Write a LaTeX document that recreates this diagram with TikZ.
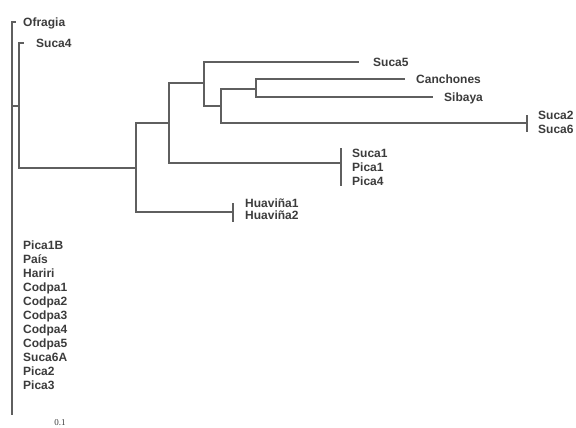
\documentclass[tikz,border=0pt]{standalone}
\usepackage{fontspec}
\setmainfont{Liberation Serif}
\newfontfamily\leaffont{Liberation Sans}
\usetikzlibrary{positioning}
\definecolor{linegray}{RGB}{95,95,95}
\definecolor{textgray}{RGB}{60,60,60}
\tikzset{
  leaf/.style={font=\leaffont\bfseries\fontsize{12}{14}\selectfont, text=textgray, inner sep=1pt, text height=8.6pt, text depth=0pt},
  branch/.style={draw=linegray, line width=1.3pt}
}
\begin{document}
\begin{tikzpicture}[x=1pt,y=-1pt]
\useasboundingbox (0,0) rectangle (576,428);
% inner nodes of the tree
\coordinate (r) at (12,106);
\coordinate (rend) at (12,415);
\coordinate (n1) at (19,106);
\coordinate (n2) at (136,168);
\coordinate (n3) at (169,123);
\coordinate (n4) at (204,83);
\coordinate (n5) at (221,106);
\coordinate (n6) at (256,89);
% tips
\coordinate (tOfr) at (16,22);
\coordinate (tSuca4) at (24,43);
\coordinate (tHua) at (233,212);
\coordinate (tSuca1) at (341,163);
\coordinate (tSuca5) at (359,62);
\coordinate (tCan) at (405,79);
\coordinate (tSib) at (433,97);
\coordinate (tSuca2) at (527,123);

\draw[branch]
(r) |- (tOfr) (r) |- (n1) (r) -- (rend)
(n1) |- (tSuca4) (n1) |- (n2)
(n2) |- (n3) (n2) |- (tHua)
(n3) |- (n4) (n3) |- (tSuca1)
(n4) |- (tSuca5) (n4) |- (n5)
(n5) |- (n6) (n5) |- (tSuca2)
(n6) |- (tCan) (n6) |- (tSib)
;
% collapsed clades
\draw[branch]
(tHua) ++(0,-9) -- ++(0,19)
(tSuca1) ++(0,-15) -- ++(0,38)
(tSuca2) ++(0,-8) -- ++(0,17)
;

\node[leaf, right=6pt of tOfr] (ofragia) {Ofragia};
\node[leaf, right=11pt of tSuca4] (suca4) {Suca4};
\node[leaf, right=13pt of tSuca5] (suca5) {Suca5};
\node[leaf, right=10pt of tCan] (canchones) {Canchones};
\node[leaf, right=10pt of tSib] (sibaya) {Sibaya};
\node[leaf, right=10pt of tSuca2, yshift=8pt] (suca2) {Suca2};
\node[leaf, below=14pt of suca2.west, anchor=west] (suca6) {Suca6};
\node[leaf, right=10pt of tSuca1, yshift=10pt] (suca1) {Suca1};
\node[leaf, below=14pt of suca1.west, anchor=west] (pica1) {Pica1};
\node[leaf, below=14pt of pica1.west, anchor=west] (pica4) {Pica4};
\node[leaf, right=11pt of tHua, yshift=9pt] (huavina1) {Huaviña1};
\node[leaf, below=12pt of huavina1.west, anchor=west] (huavina2) {Huaviña2};

\node[leaf, anchor=west] (pica1b) at (22,245) {Pica1B};
\node[leaf, below=14pt of pica1b.west, anchor=west] (pais) {País};
\node[leaf, below=14pt of pais.west, anchor=west] (hariri) {Hariri};
\node[leaf, below=14pt of hariri.west, anchor=west] (codpa1) {Codpa1};
\node[leaf, below=14pt of codpa1.west, anchor=west] (codpa2) {Codpa2};
\node[leaf, below=14pt of codpa2.west, anchor=west] (codpa3) {Codpa3};
\node[leaf, below=14pt of codpa3.west, anchor=west] (codpa4) {Codpa4};
\node[leaf, below=14pt of codpa4.west, anchor=west] (codpa5) {Codpa5};
\node[leaf, below=14pt of codpa5.west, anchor=west] (suca6a) {Suca6A};
\node[leaf, below=14pt of suca6a.west, anchor=west] (pica2) {Pica2};
\node[leaf, below=14pt of pica2.west, anchor=west] (pica3) {Pica3};

\node[font=\fontsize{9}{10}\selectfont, text=textgray] (scale) at (60,423) {0.1};
\end{tikzpicture}
\end{document}
